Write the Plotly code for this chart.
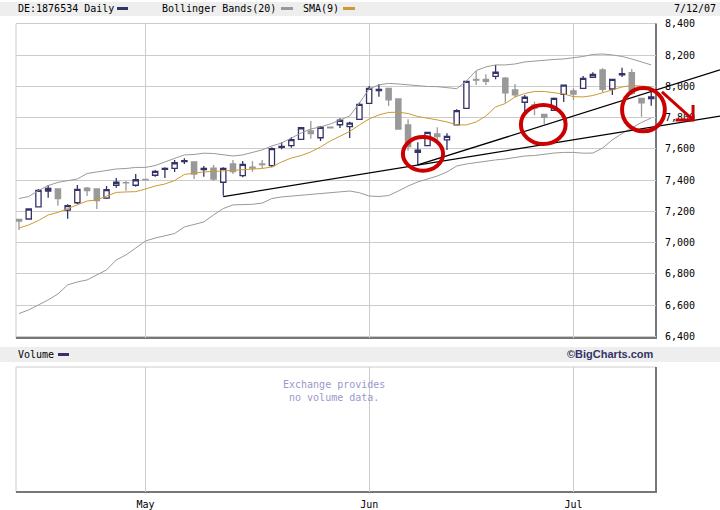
import plotly.graph_objects as go

# trading days 13 Apr - 12 Jul 2007, x is the trading day number
days = list(range(66))
month_pos = [13, 36, 57]
month_labels = ["May", "Jun", "Jul"]
price_ticks = [6400, 6600, 6800, 7000, 7200, 7400, 7600, 7800, 8000, 8200, 8400]

opens = [7149, 7152, 7229, 7331, 7344, 7209, 7256, 7350, 7344, 7286, 7368, 7385, 7368, 7405, 7432, 7470, 7476,
         7520, 7517, 7468, 7478, 7387, 7504, 7429, 7483, 7504, 7493, 7610, 7621, 7662, 7715, 7672, 7739, 7755,
         7743, 7790, 7892, 7974, 7988, 7920, 7754, 7579, 7622, 7696, 7658, 7754, 7860, 8046, 8046, 8065, 8054,
         7978, 7899, 7882, 7822, 7848, 7950, 7971, 7988, 8059, 8106, 7984, 8075, 8088, 7924, 7922]
highs = [7152, 7218, 7344, 7370, 7344, 7246, 7370, 7357, 7344, 7363, 7414, 7395, 7440, 7405, 7466, 7483, 7530,
         7540, 7517, 7491, 7498, 7483, 7530, 7523, 7521, 7530, 7611, 7643, 7675, 7738, 7779, 7747, 7742, 7796,
         7775, 7899, 8003, 8016, 7990, 7925, 7790, 7643, 7710, 7739, 7700, 7854, 8035, 8099, 8078, 8138, 8061,
         8016, 7946, 7903, 7825, 7930, 8012, 7988, 8067, 8091, 8116, 8050, 8120, 8112, 7928, 7967]
lows = [7082, 7150, 7229, 7288, 7237, 7154, 7248, 7299, 7216, 7280, 7352, 7333, 7359, 7402, 7423, 7414, 7453,
        7504, 7408, 7423, 7395, 7301, 7440, 7419, 7455, 7476, 7483, 7598, 7608, 7660, 7666, 7651, 7733, 7734,
        7670, 7788, 7890, 7935, 7875, 7725, 7589, 7498, 7618, 7638, 7594, 7752, 7858, 8010, 8010, 8046, 7896,
        7931, 7837, 7816, 7758, 7845, 7901, 7914, 7985, 8056, 7965, 7946, 8061, 7946, 7806, 7877]
closes = [7139, 7216, 7335, 7347, 7282, 7237, 7342, 7333, 7269, 7340, 7387, 7383, 7403, 7402, 7457, 7476, 7512,
          7526, 7440, 7475, 7408, 7476, 7455, 7502, 7478, 7500, 7602, 7616, 7660, 7736, 7698, 7739, 7736, 7784,
          7765, 7886, 7988, 7981, 7915, 7728, 7615, 7592, 7706, 7679, 7681, 7845, 8033, 8040, 8033, 8091, 7960,
          7947, 7931, 7862, 7803, 7924, 8008, 7952, 8052, 8078, 7982, 8046, 8082, 7956, 7896, 7934]

boll_upper = [7283, 7296, 7334, 7366, 7386, 7395, 7408, 7443, 7453, 7462, 7472, 7475, 7482, 7482, 7494, 7517, 7539,
              7562, 7565, 7573, 7571, 7562, 7555, 7562, 7578, 7594, 7619, 7638, 7670, 7702, 7728, 7741, 7760, 7786,
              7811, 7894, 7984, 8010, 8020, 8016, 8010, 8003, 8000, 7999, 7994, 7986, 8035, 8102, 8125, 8138, 8138,
              8144, 8157, 8163, 8170, 8173, 8176, 8182, 8192, 8205, 8208, 8202, 8192, 8176, 8157, 8138]
boll_lower = [6547, 6570, 6602, 6634, 6672, 6730, 6749, 6762, 6794, 6826, 6890, 6922, 6966, 7011, 7030, 7046, 7059,
              7101, 7117, 7133, 7178, 7219, 7242, 7245, 7246, 7254, 7283, 7293, 7299, 7306, 7309, 7315, 7322, 7328,
              7331, 7320, 7299, 7296, 7302, 7331, 7363, 7389, 7408, 7427, 7453, 7491, 7504, 7514, 7523, 7530, 7536,
              7546, 7555, 7558, 7568, 7574, 7578, 7578, 7573, 7574, 7606, 7658, 7699, 7734, 7770, 7798]
sma9 = [7094, 7114, 7142, 7178, 7194, 7219, 7242, 7267, 7274, 7299, 7322, 7325, 7327, 7344, 7363, 7376, 7398,
        7437, 7446, 7453, 7456, 7459, 7462, 7466, 7469, 7475, 7485, 7517, 7542, 7558, 7581, 7613, 7651, 7683,
        7712, 7754, 7792, 7818, 7834, 7835, 7827, 7808, 7798, 7786, 7773, 7754, 7754, 7773, 7811, 7869, 7891,
        7933, 7955, 7968, 7968, 7962, 7952, 7935, 7933, 7942, 7958, 7978, 7997, 8006, 8003, 7997]

# hand drawn markup on the chart, in day number / price
trend_low_x = [21, 72.07]
trend_low_y = [7295, 7811]
trend_high_x = [41, 72.07]
trend_high_y = [7498, 8106]
arrow_x = [66.1, 69.3, None, 69.3, 69.3, 67.5]
arrow_y = [7965, 7786, None, 7882, 7786, 7786]
ring_x0 = [39.47, 51.6, 62.0]
ring_x1 = [43.6, 56.2, 66.4]
ring_y0 = [7461, 7632, 7713]
ring_y1 = [7677, 7881, 7990]

NAVY = "#333366"
GRAY = "#999999"
ORANGE = "#cc9933"
RED = "#cc0000"
GRID = "#cccccc"
MONO = "DejaVu Sans Mono"

W, H = 720, 510


def px(x):
    return x / W


def py(y):
    return 1 - y / H


fig = go.Figure()

fig.add_trace(go.Scatter(x=days, y=boll_upper, mode="lines", line=dict(color=GRAY, width=1)))
fig.add_trace(go.Scatter(x=days, y=boll_lower, mode="lines", line=dict(color=GRAY, width=1)))
fig.add_trace(go.Scatter(x=days, y=sma9, mode="lines", line=dict(color=ORANGE, width=1)))
fig.add_trace(go.Candlestick(
    x=days, open=opens, high=highs, low=lows, close=closes,
    increasing=dict(line=dict(color=NAVY, width=1.3), fillcolor="white"),
    decreasing=dict(line=dict(color=GRAY, width=1.3), fillcolor=GRAY),
    whiskerwidth=0,
))

# empty volume panel
fig.add_trace(go.Scatter(x=days, y=[None] * len(days), mode="lines", xaxis="x2", yaxis="y2"))

# overlay axes cover the whole page, the markup runs past the plot frame
fig.add_trace(go.Scatter(x=trend_low_x, y=trend_low_y, mode="lines", line=dict(color="black", width=1.3),
                         xaxis="x3", yaxis="y3"))
fig.add_trace(go.Scatter(x=trend_high_x, y=trend_high_y, mode="lines", line=dict(color="black", width=1.3),
                         xaxis="x3", yaxis="y3"))
fig.add_trace(go.Scatter(x=arrow_x, y=arrow_y, mode="lines", line=dict(color=RED, width=3),
                         xaxis="x3", yaxis="y3"))

for x0, x1, y0, y1 in zip(ring_x0, ring_x1, ring_y0, ring_y1):
    fig.add_shape(type="circle", xref="x3", yref="y3", x0=x0, x1=x1, y0=y0, y1=y1,
                  line=dict(color=RED, width=4), layer="above")


def chrome_rect(x0, y0, x1, y1, color):
    fig.add_shape(type="rect", xref="paper", yref="paper", x0=px(x0), x1=px(x1), y0=py(y0), y1=py(y1),
                  fillcolor=color, line=dict(width=0), layer="below")


def chrome_line(x0, y0, x1, y1, color, width=1):
    fig.add_shape(type="line", xref="paper", yref="paper", x0=px(x0), x1=px(x1), y0=py(y0), y1=py(y1),
                  line=dict(color=color, width=width), layer="below")


def label(x, y, text, anchor="left", color="black", size=10, family=MONO):
    fig.add_annotation(xref="paper", yref="paper", x=px(x), y=py(y), text=text, showarrow=False,
                       xanchor=anchor, yanchor="middle", align="center",
                       font=dict(family=family, size=size, color=color))


# header bands
chrome_rect(0, 2, 720, 16, "#eeeeee")
chrome_rect(0, 347, 720, 362, "#eeeeee")

# panel frames, light top and left, dark bottom and right
for top, bottom in [(23.5, 338), (367, 492)]:
    chrome_line(16, top, 656, top, GRID)
    chrome_line(16, top, 16, bottom, GRID)
    chrome_line(16, bottom, 657, bottom, "#777777", 2)
    chrome_line(656, top, 656, bottom, "#777777", 2)

# legend swatches
chrome_rect(117, 7, 128, 10, NAVY)
chrome_rect(281, 7, 293, 10, GRAY)
chrome_rect(343, 7, 355, 10, ORANGE)
chrome_rect(58, 353, 69, 356, NAVY)

label(16, 8.5, "DE:1876534 Daily")
label(160, 8.5, "Bollinger Bands(20)")
label(301, 8.5, "SMA(9)")
label(718, 8.5, "7/12/07", anchor="right")
label(16, 354.5, "Volume")
label(656, 354, "<b>©BigCharts.com</b>", anchor="right", color=NAVY, size=11, family="Liberation Sans")
label(334, 390.5, "Exchange provides<br>no volume data.", anchor="center", color="#9999cc")

fig.update_layout(
    width=W, height=H,
    margin=dict(l=0, r=0, t=0, b=0, autoexpand=False),
    paper_bgcolor="white", plot_bgcolor="rgba(0,0,0,0)",
    showlegend=False,
    boxgap=0.46, boxgroupgap=0,
    xaxis=dict(domain=[px(16), px(656)], range=[-0.308, 65.49], anchor="y", rangeslider=dict(visible=False),
               tickmode="array", tickvals=month_pos, showticklabels=False, ticks="", automargin=False,
               showgrid=True, gridcolor=GRID, gridwidth=1, zeroline=False),
    yaxis=dict(domain=[py(338), py(23.5)], range=[6390.4, 8403], anchor="x", side="right", automargin=False,
               tickmode="array", tickvals=price_ticks, tickformat=",", ticks="outside", ticklen=6,
               tickcolor="white", tickfont=dict(family=MONO, size=10, color="black"),
               showgrid=True, gridcolor=GRID, gridwidth=1, zeroline=False),
    xaxis2=dict(domain=[px(16), px(656)], range=[-0.308, 65.49], anchor="y2", automargin=False,
                tickmode="array", tickvals=month_pos, ticktext=month_labels, ticks="outside", ticklen=3,
                tickcolor="white", tickfont=dict(family=MONO, size=10, color="black"),
                showgrid=True, gridcolor=GRID, gridwidth=1, zeroline=False),
    yaxis2=dict(domain=[py(492), py(367)], range=[0, 1], anchor="x2", showticklabels=False, ticks="",
                automargin=False, showgrid=False, zeroline=False),
    xaxis3=dict(domain=[0, 1], range=[-1.953, 72.07], anchor="y3", visible=False, automargin=False),
    yaxis3=dict(domain=[0, 1], range=[5289.6, 8553.6], anchor="x3", visible=False, automargin=False),
)

# the page is photographed from its corner, drop the default body margin
fig.write_html("out.html", config=dict(displayModeBar=False), post_script="document.body.style.margin='0';")
